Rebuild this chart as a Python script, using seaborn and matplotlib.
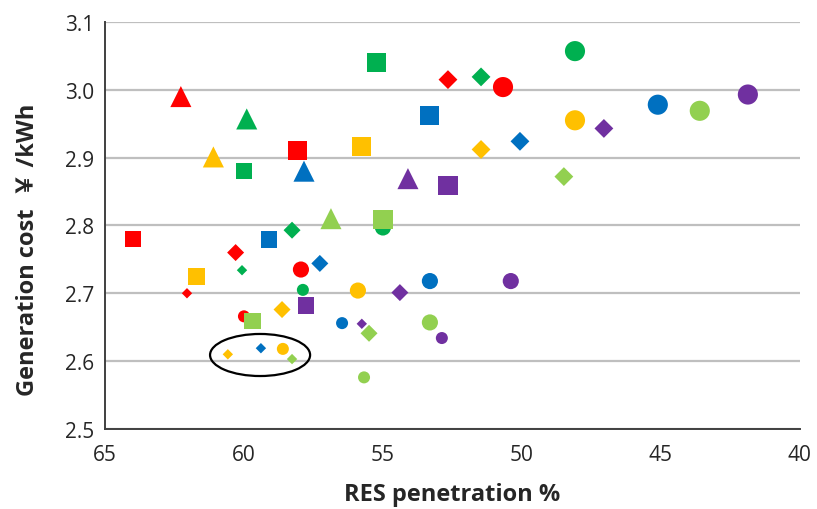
import numpy as np
import matplotlib
matplotlib.use("Agg")
import matplotlib.pyplot as plt
from matplotlib.patches import Ellipse
import seaborn as sns
import pandas as pd

# series (colour groups), each with 9 points in the same marker order
groups = ["red", "green", "blue", "yellow", "lightgreen", "purple"]
palette = {"red": "#FF0000", "green": "#00B050", "blue": "#0070C0",
           "yellow": "#FFC000", "lightgreen": "#92D050", "purple": "#7030A0"}

# marker kind for each of the 9 points
kinds = ["tri", "sq_lo", "sq_hi", "dia_s", "dia_m", "dia_hi", "cir_s", "cir_m", "cir_l"]

res_pen = {
    "red":        [62.27, 64.00, 58.06, 62.05, 60.30, 52.66, 60.00, 57.95, 50.68],
    "green":      [59.90, 60.00, 55.22, 60.07, 58.27, 51.47, 57.88, 55.00, 48.09],
    "blue":       [57.84, 59.10, 53.31, 59.39, 57.27, 50.07, 56.47, 53.31, 45.11],
    "yellow":     [61.10, 61.70, 55.76, 60.58, 58.63, 51.47, 58.60, 55.90, 48.09],
    "lightgreen": [56.87, 59.70, 55.00, 58.27, 55.50, 48.49, 55.68, 53.31, 43.60],
    "purple":     [54.10, 57.77, 52.66, 55.76, 54.39, 47.05, 52.88, 50.40, 41.87],
}
gen_cost = {
    "red":        [2.990, 2.780, 2.910, 2.700, 2.760, 3.015, 2.666, 2.735, 3.004],
    "green":      [2.957, 2.880, 3.040, 2.734, 2.793, 3.019, 2.705, 2.797, 3.057],
    "blue":       [2.880, 2.779, 2.962, 2.619, 2.744, 2.924, 2.656, 2.718, 2.978],
    "yellow":     [2.901, 2.725, 2.916, 2.610, 2.676, 2.912, 2.618, 2.704, 2.955],
    "lightgreen": [2.810, 2.659, 2.809, 2.603, 2.641, 2.872, 2.576, 2.657, 2.969],
    "purple":     [2.869, 2.682, 2.859, 2.655, 2.701, 2.943, 2.634, 2.718, 2.993],
}

x_ticks = [65, 60, 55, 50, 45, 40]
y_ticks = [2.5, 2.6, 2.7, 2.8, 2.9, 3.0, 3.1]

markers = {"tri": "^", "sq_lo": "s", "sq_hi": "s", "dia_s": "D", "dia_m": "D",
           "dia_hi": "D", "cir_s": "o", "cir_m": "o", "cir_l": "o"}
sizes = {"tri": 230, "sq_lo": 140, "sq_hi": 190, "dia_s": 28, "dia_m": 75,
         "dia_hi": 92, "cir_s": 75, "cir_m": 135, "cir_l": 210}
# circles go down first, squares end up on top
draw_order = ["cir_s", "cir_m", "cir_l", "dia_s", "dia_m", "dia_hi", "tri", "sq_lo", "sq_hi"]

rows = []
for g in groups:
    for k, xv, yv in zip(kinds, res_pen[g], gen_cost[g]):
        rows.append({"group": g, "kind": k, "x": xv, "y": yv})
df = pd.DataFrame(rows)

sns.set_style("white")
plt.rcParams["font.family"] = ["Open Sans", "Noto Sans CJK SC", "DejaVu Sans"]

fig = plt.figure(figsize=(8.17, 5.10), dpi=100)
ax = fig.add_axes([0.1285, 0.157, 0.8505, 0.798])

ax.yaxis.grid(True, color="#BFBFBF", linewidth=1.6, zorder=0)
ax.set_axisbelow(True)

for k in draw_order:
    sub = df[df["kind"] == k]
    sns.scatterplot(data=sub, x="x", y="y", hue="group", palette=palette,
                    marker=markers[k], s=sizes[k], linewidth=0, legend=False,
                    ax=ax, zorder=3)

ax.add_patch(Ellipse((59.42, 2.609), 3.6, 0.062, fill=False,
                     edgecolor="black", linewidth=1.6, zorder=4))

ax.set_xlim(65, 40)
ax.set_ylim(2.5, 3.1)
ax.set_xticks(x_ticks)
ax.set_yticks(y_ticks)
ax.set_yticklabels([f"{v:.1f}" for v in y_ticks])
ax.tick_params(axis="both", labelsize=15, direction="inout", length=8,
               width=1.2, color="#404040", pad=4)
ax.tick_params(axis="x", pad=7)

for side in ["top", "right"]:
    ax.spines[side].set_visible(False)
for side in ["left", "bottom"]:
    ax.spines[side].set_color("#404040")
    ax.spines[side].set_linewidth(1.4)

ax.set_xlabel("RES penetration %", fontsize=17, fontweight="bold", labelpad=12)
ax.set_ylabel("Generation cost  ￥ /kWh", fontsize=17, fontweight="bold")
ax.yaxis.set_label_coords(-0.094, 0.442)

fig.savefig("out.png", dpi=100)
